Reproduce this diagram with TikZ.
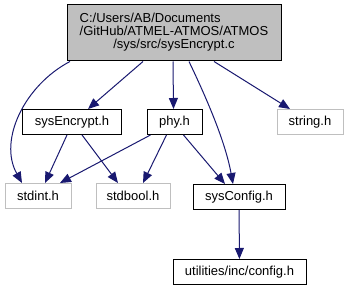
\documentclass[tikz,border=0pt]{standalone}
\usepackage{fontspec}
\setmainfont{Liberation Sans}
\usetikzlibrary{arrows.meta}

\definecolor{edgeblue}{HTML}{191970}
\definecolor{grey75}{HTML}{BFBFBF}

\tikzset{
  file/.style = {draw = black, fill = white, line width = 1pt, inner sep = 0pt,
    minimum height = 25, font = \fontsize{13}{15}\selectfont},
  sysfile/.style = {file, draw = grey75},
  edge/.style = {draw = edgeblue, line width = 1pt,
    -{Triangle[length = 11pt, width = 9pt]}},
}

\begin{document}
\begin{tikzpicture}[x = 1pt, y = -1pt]
\useasboundingbox (0,0) rectangle (347,291);

\node[file, fill = grey75, minimum width = 214, minimum height = 56] (src) at (174,33)
  {\begin{tabular}{@{}l@{}}C:/Users/AB/Documents\\[-2pt]/GitHub/ATMEL-ATMOS/ATMOS\\[-2pt]
   \multicolumn{1}{@{}c@{}}{/sys/src/sysEncrypt.c}\end{tabular}};

\node[file, minimum width = 99] (encrypt) at (72,122) {sysEncrypt.h};
\node[file, minimum width = 55] (phy) at (174.5,122) {phy.h};
\node[sysfile, minimum width = 66] (string) at (310,122) {string.h};

\node[sysfile, minimum width = 66] (stdint) at (38,196) {stdint.h};
\node[sysfile, minimum width = 74] (stdbool) at (133,196) {stdbool.h};
\node[file, minimum width = 92] (sysconfig) at (239,197) {sysConfig.h};

\node[file, minimum width = 133] (config) at (239.5,272) {utilities/inc/config.h};

\draw[edge] ([xshift = -104]src.south) .. controls (25,85) and (-2,140) .. ([xshift = -16]stdint.north);
\draw[edge] ([xshift = -31]src.south) -- ([xshift = 16]encrypt.north);
\draw[edge] ([xshift = -1]src.south) -- ([xshift = -1]phy.north);
\draw[edge] ([xshift = 15]src.south) .. controls (205,95) and (225,140) .. ([xshift = -6]sysconfig.north);
\draw[edge] ([xshift = 40]src.south) -- ([xshift = -20]string.north);

\draw[edge] ([xshift = -5]encrypt.south) -- ([xshift = 7]stdint.north);
\draw[edge] ([xshift = 10]encrypt.south) -- ([xshift = -15]stdbool.north);
\draw[edge] ([xshift = -24]phy.south) -- ([xshift = 22]stdint.north);
\draw[edge] ([xshift = -8]phy.south) -- ([xshift = 10]stdbool.north);
\draw[edge] ([xshift = 9]phy.south) -- ([xshift = -14]sysconfig.north);

\draw[edge] (sysconfig) -- (config);
\end{tikzpicture}
\end{document}
